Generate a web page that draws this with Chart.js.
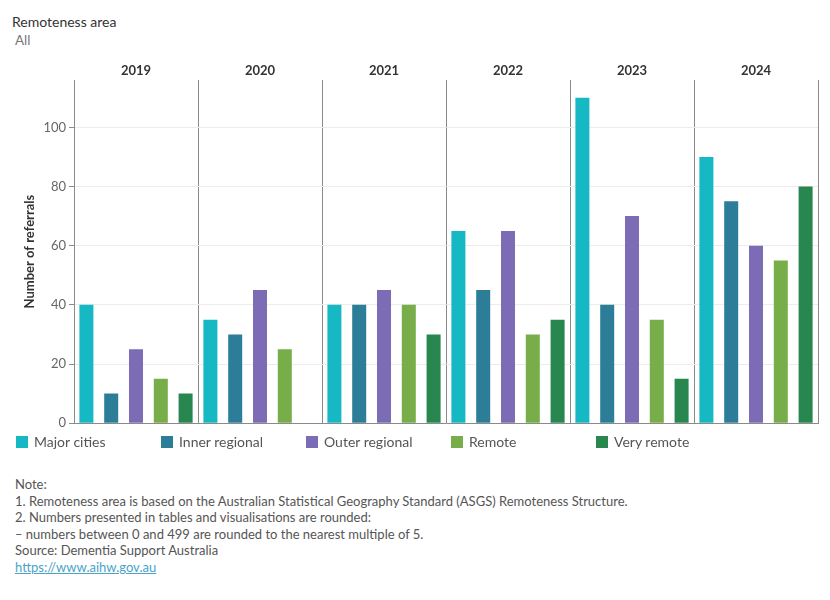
<!DOCTYPE html>
<html>
<head>
<meta charset="utf-8">
<script src="https://cdn.jsdelivr.net/npm/chart.js@4"></script>
<style>
  html, body { margin: 0; padding: 0; background: #fff; }
  body { width: 830px; height: 600px; position: relative; font-family: Lato, "Noto Sans", sans-serif; overflow: hidden; }
  #wrap { position: absolute; left: 0; top: 0; width: 830px; height: 434px; }
  .hdr { position: absolute; left: 12px; top: 13px; font-size: 14px; color: #333; }
  .all { position: absolute; left: 15px; top: 32px; font-size: 13.5px; color: #777; }
  #legend { position: absolute; left: 0; top: 433px; width: 830px; height: 18px; }
  .li { position: absolute; top: 0; height: 18px; font-size: 14px; color: #555; white-space: nowrap; }
  .li .box { position: absolute; left: 0; top: 3px; width: 12px; height: 12px; }
  .li .tx { position: absolute; left: 18px; top: 0; line-height: 17px; }
  #notes { position: absolute; left: 15px; top: 476px; font-size: 13px; color: #555; line-height: 16.6px; }
  #notes a { color: #4aa3c9; text-decoration: underline; }
</style>
</head>
<body>
<div class="hdr">Remoteness area</div>
<div class="all">All</div>
<div id="wrap"><canvas id="c" width="830" height="434"></canvas></div>
<div id="legend"></div>
<div id="notes">
Note:<br>
1. Remoteness area is based on the Australian Statistical Geography Standard (ASGS) Remoteness Structure.<br>
2. Numbers presented in tables and visualisations are rounded:<br>
– numbers between 0 and 499 are rounded to the nearest multiple of 5.<br>
Source: Dementia Support Australia<br>
<a href="#">https://www.aihw.gov.au</a>
</div>
<script>
const years = ['2019', '2020', '2021', '2022', '2023', '2024'];
const seriesNames = ['Major cities', 'Inner regional', 'Outer regional', 'Remote', 'Very remote'];
const majorCities   = [40, 35, 40, 65, 110, 90];
const innerRegional = [10, 30, 40, 45, 40, 75];
const outerRegional = [25, 45, 45, 65, 70, 60];
const remote        = [15, 25, 40, 30, 35, 55];
const veryRemote    = [10, null, 30, 35, 15, 80];
const yTicks = [0, 20, 40, 60, 80, 100];

const colors = ['#16B8C4', '#2C7E98', '#7C6BB5', '#77AE4A', '#27874F'];
const values = [majorCities, innerRegional, outerRegional, remote, veryRemote];

const datasets = seriesNames.map((n, i) => ({
  label: n,
  data: values[i],
  backgroundColor: colors[i],
  borderWidth: 0,
  categoryPercentage: 1,
  barPercentage: 0.565,
  xAxisID: 'x'
}));

// HTML legend
const leg = document.getElementById('legend');
seriesNames.forEach((n, i) => {
  const d = document.createElement('div');
  d.className = 'li';
  d.style.left = (16 + i * 145) + 'px';
  d.innerHTML = '<span class="box" style="background:' + colors[i] + '"></span><span class="tx"></span>';
  d.querySelector('.tx').textContent = n;
  leg.appendChild(d);
});

const FONT = 'Lato, "Noto Sans", sans-serif';

new Chart(document.getElementById('c'), {
  type: 'bar',
  data: { labels: years, datasets },
  options: {
    responsive: false,
    animation: false,
    layout: { padding: { top: 64, right: 12, bottom: 0, left: 0 } },
    plugins: { legend: { display: false }, tooltip: { enabled: false } },
    scales: {
      x: {
        type: 'category',
        position: 'top',
        offset: true,
        grid: { display: true, offset: true, color: '#8a8a8a', lineWidth: 1, drawTicks: false },
        border: { display: false },
        ticks: { color: '#333', font: { family: FONT, size: 13, weight: 'bold' }, padding: 1 },
        afterFit: s => { s.height = 16; }
      },
      x2: {
        type: 'category',
        position: 'bottom',
        labels: years,
        grid: { display: false, drawTicks: false },
        border: { display: true, color: '#8a8a8a', width: 1 },
        ticks: { display: false },
        afterFit: s => { s.height = 0; }
      },
      y: {
        min: 0,
        max: 116,
        afterBuildTicks: s => { s.ticks = yTicks.map(v => ({ value: v })); },
        grid: { color: '#ececec', tickColor: '#8a8a8a', tickLength: 5, drawTicks: true },
        border: { display: true, color: '#8a8a8a', width: 1 },
        ticks: { color: '#666', font: { family: FONT, size: 13 }, padding: 3 },
        title: { display: true, text: 'Number of referrals', color: '#333', font: { family: FONT, size: 13, weight: 'bold' }, padding: { top: 22, bottom: 0 } },
        afterFit: s => { s.width = 74; }
      }
    }
  }
});
</script>
</body>
</html>
